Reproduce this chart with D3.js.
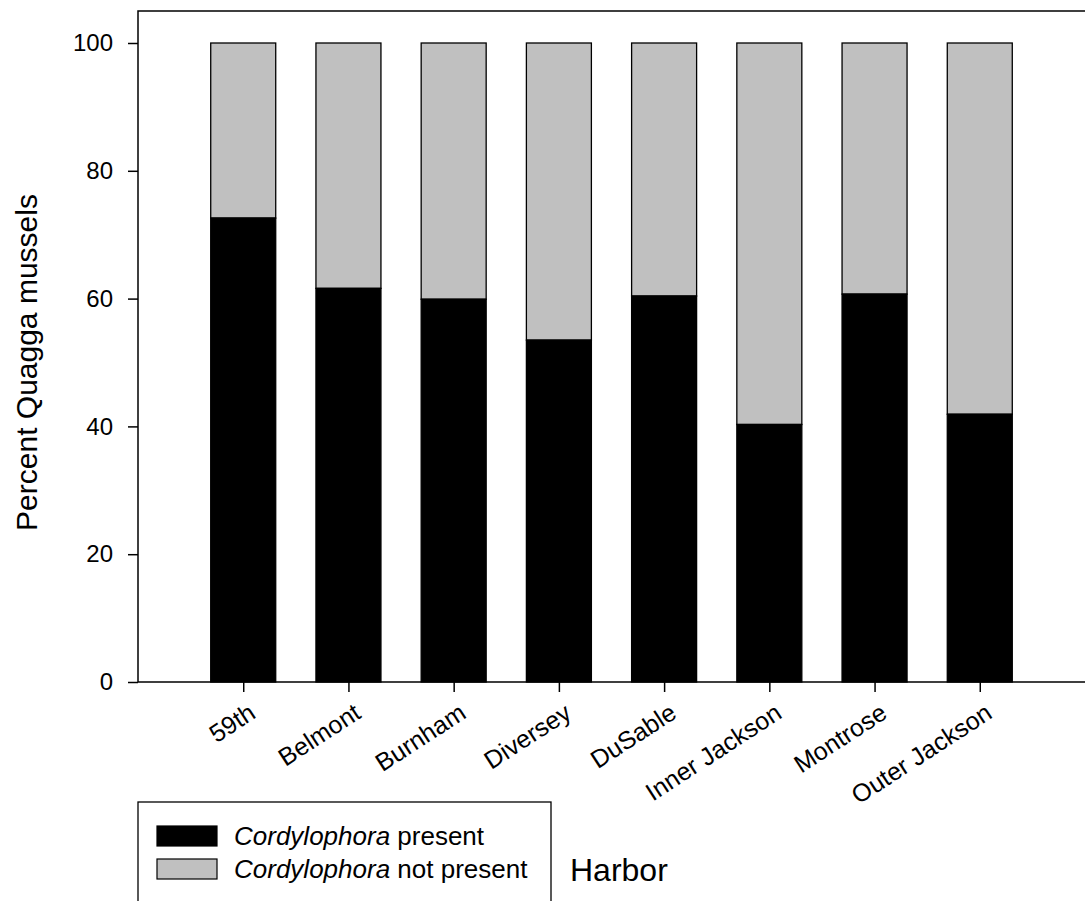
<!DOCTYPE html>
<html>
<head>
<meta charset="utf-8">
<script src="https://cdn.jsdelivr.net/npm/d3@7"></script>
<style>
  html, body { margin: 0; padding: 0; background: #fff; }
  svg { display: block; font-family: Arial, "Liberation Sans", sans-serif; }
</style>
</head>
<body>
<svg id="chart" width="1085" height="901"></svg>
<script>
// Percent of quagga mussels with / without Cordylophora, by harbor
const harbors = ['59th', 'Belmont', 'Burnham', 'Diversey', 'DuSable', 'Inner Jackson', 'Montrose', 'Outer Jackson'];
const present = [72.6, 61.6, 59.9, 53.5, 60.4, 40.3, 60.7, 41.9];
const notPresent = present.map(v => 100 - v);
const yTicks = [0, 20, 40, 60, 80, 100];

const svg = d3.select('#chart');
const m = { left: 138, top: 11, bottom: 682, right: 1085 };

const x = d3.scalePoint().domain(harbors).range([m.left, m.right]).padding(1);
const y = d3.scaleLinear().domain([0, 100]).range([m.bottom, 43]);
const barW = 65;

// stacked bars
const g = svg.append('g');
harbors.forEach((h, i) => {
  const cx = x(h);
  g.append('rect')
    .attr('x', cx - barW / 2)
    .attr('y', y(present[i] + notPresent[i]))
    .attr('width', barW)
    .attr('height', y(present[i]) - y(present[i] + notPresent[i]))
    .attr('fill', '#c0c0c0')
    .attr('stroke', '#000')
    .attr('stroke-width', 1.3);
  g.append('rect')
    .attr('x', cx - barW / 2)
    .attr('y', y(present[i]))
    .attr('width', barW)
    .attr('height', y(0) - y(present[i]))
    .attr('fill', '#000')
    .attr('stroke', '#000')
    .attr('stroke-width', 1.3);
});

// frame lines (left + top + bottom)
svg.append('path')
  .attr('d', `M${m.right},${m.top}H${m.left}V${m.bottom}H${m.right}`)
  .attr('fill', 'none')
  .attr('stroke', '#000')
  .attr('stroke-width', 1.5);

// y axis
const yAxis = svg.append('g')
  .attr('transform', `translate(${m.left},0)`)
  .call(d3.axisLeft(y).tickValues(yTicks).tickSize(10).tickPadding(15).tickFormat(d3.format('d')));
yAxis.select('.domain').remove();
yAxis.selectAll('line').attr('stroke-width', 1.5);
yAxis.selectAll('text')
  .attr('font-size', 24)
  .attr('font-family', 'Arial, "Liberation Sans", sans-serif')
  .attr('fill', '#000');

// x axis
const xAxis = svg.append('g')
  .attr('transform', `translate(0,${m.bottom})`)
  .call(d3.axisBottom(x).tickSize(10).tickFormat(''));
xAxis.select('.domain').remove();
xAxis.selectAll('line').attr('stroke-width', 1.5);

svg.append('g').selectAll('text')
  .data(harbors)
  .join('text')
  .attr('transform', d => `translate(${x(d) + 14},717) rotate(-33)`)
  .attr('text-anchor', 'end')
  .attr('font-size', 25)
  .attr('fill', '#000')
  .text(d => d);

// axis titles
svg.append('text')
  .attr('transform', `translate(37,${(43 + m.bottom) / 2}) rotate(-90)`)
  .attr('text-anchor', 'middle')
  .attr('font-size', 30)
  .text('Percent Quagga mussels');

svg.append('text')
  .attr('x', 570)
  .attr('y', 881)
  .attr('font-size', 32)
  .text('Harbor');

// legend
const legend = svg.append('g');
legend.append('rect')
  .attr('x', 138).attr('y', 802)
  .attr('width', 413).attr('height', 120)
  .attr('fill', 'none').attr('stroke', '#000').attr('stroke-width', 1.3);

const legendItems = [
  { fill: '#000', y: 826, rest: ' present' },
  { fill: '#c0c0c0', y: 859, rest: ' not present' }
];
legendItems.forEach(it => {
  legend.append('rect')
    .attr('x', 157).attr('y', it.y)
    .attr('width', 60).attr('height', 20)
    .attr('fill', it.fill).attr('stroke', '#000').attr('stroke-width', 1.2);
  const t = legend.append('text')
    .attr('x', 234).attr('y', it.y + 19)
    .attr('font-size', 26);
  t.append('tspan').attr('font-style', 'italic').text('Cordylophora');
  t.append('tspan').text(it.rest);
});
</script>
</body>
</html>
